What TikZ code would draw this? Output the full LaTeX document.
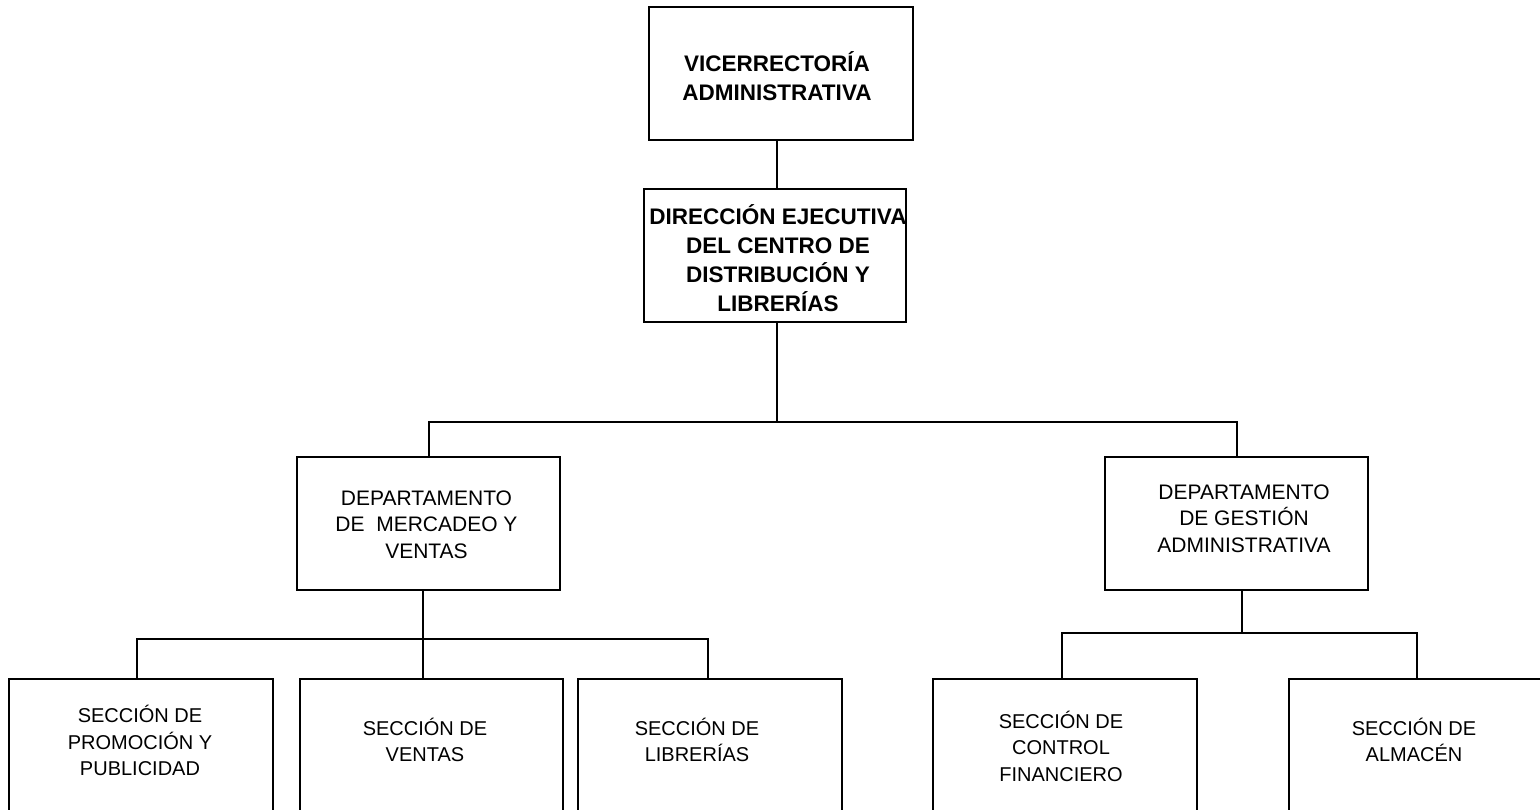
\documentclass[tikz,border=0pt]{standalone}
\usepackage{fontspec}
\setmainfont{Liberation Sans}
\begin{document}
\begin{tikzpicture}[x=1pt,y=-1pt,
  box/.style={draw, line width=1.6pt, rectangle, inner sep=0pt},
  topbox/.style={box, minimum height=133pt},
  secbox/.style={box, minimum height=160pt},
  boldtxt/.style={font=\fontsize{22.5}{29}\selectfont\bfseries, align=center, inner sep=0pt},
  depttxt/.style={font=\fontsize{21}{26.5}\selectfont, align=center, inner sep=0pt},
  plaintxt/.style={font=\fontsize{20}{26.5}\selectfont, align=center, inner sep=0pt},
  link/.style={line width=1.6pt, line join=miter}]
\useasboundingbox (0,0) rectangle (1540,810);
\clip (0,0) rectangle (1540,810);

% upper levels
\node[topbox, minimum width=264pt,
  label={[boldtxt, xshift=-4pt, yshift=-2.5pt]center:VICERRECTORÍA\\ADMINISTRATIVA}]
  (vice) at (781,73.5) {};
\node[topbox, minimum width=262pt,
  label={[boldtxt, xshift=3pt, yshift=-3pt]center:DIRECCIÓN EJECUTIVA\\DEL CENTRO DE\\DISTRIBUCIÓN Y\\LIBRERÍAS}]
  (dir) at (775,255.5) {};

% departments
\node[topbox, minimum width=263pt,
  label={[depttxt, xshift=-2pt, yshift=-1pt]center:DEPARTAMENTO\\DE \ MERCADEO Y\\VENTAS}]
  (deptM) at (428.5,523.5) {};
\node[topbox, minimum width=263pt,
  label={[depttxt, xshift=7.5pt, yshift=5pt]center:DEPARTAMENTO\\DE GESTIÓN\\ADMINISTRATIVA}]
  (deptG) at (1236.5,523.5) {};

% sections
\node[secbox, minimum width=264pt,
  label={[plaintxt, xshift=-1pt, yshift=18.5pt]center:SECCIÓN DE\\PROMOCIÓN Y\\PUBLICIDAD}]
  (s1) at (141,759) {};
\node[secbox, minimum width=263pt,
  label={[plaintxt, xshift=-6.5pt, yshift=19pt]center:SECCIÓN DE\\VENTAS}]
  (s2) at (431.5,759) {};
\node[secbox, minimum width=264pt,
  label={[plaintxt, xshift=-13pt, yshift=19pt]center:SECCIÓN DE\\LIBRERÍAS}]
  (s3) at (710,759) {};
\node[secbox, minimum width=264pt,
  label={[plaintxt, xshift=-4pt, yshift=13pt]center:SECCIÓN DE\\CONTROL\\FINANCIERO}]
  (s4) at (1065,759) {};
\node[secbox, minimum width=264pt,
  label={[plaintxt, xshift=-7pt, yshift=19pt]center:SECCIÓN DE\\ALMACÉN}]
  (s5) at (1421,759) {};

% branch points
\coordinate (j1) at (777,422);
\coordinate (bl) at (429,422);
\coordinate (br) at (1237,422);
\coordinate (j2) at (423,639);
\coordinate (ml) at (137,639);
\coordinate (mr) at (708,639);
\coordinate (j3) at (1242,633);
\coordinate (gl) at (1062,633);
\coordinate (gr) at (1417,633);

% connectors
\draw[link] (vice.south -| j1) -- (dir.north -| j1);
\draw[link] (dir.south -| j1) -- (j1);
\draw[link] (deptM.north -| bl) -- (bl) -- (br) -- (deptG.north -| br);
\draw[link] (deptM.south -| j2) -- (s2.north -| j2);
\draw[link] (s1.north -| ml) -- (ml) -- (mr) -- (s3.north -| mr);
\draw[link] (deptG.south -| j3) -- (j3);
\draw[link] (s4.north -| gl) -- (gl) -- (gr) -- (s5.north -| gr);
\end{tikzpicture}
\end{document}
